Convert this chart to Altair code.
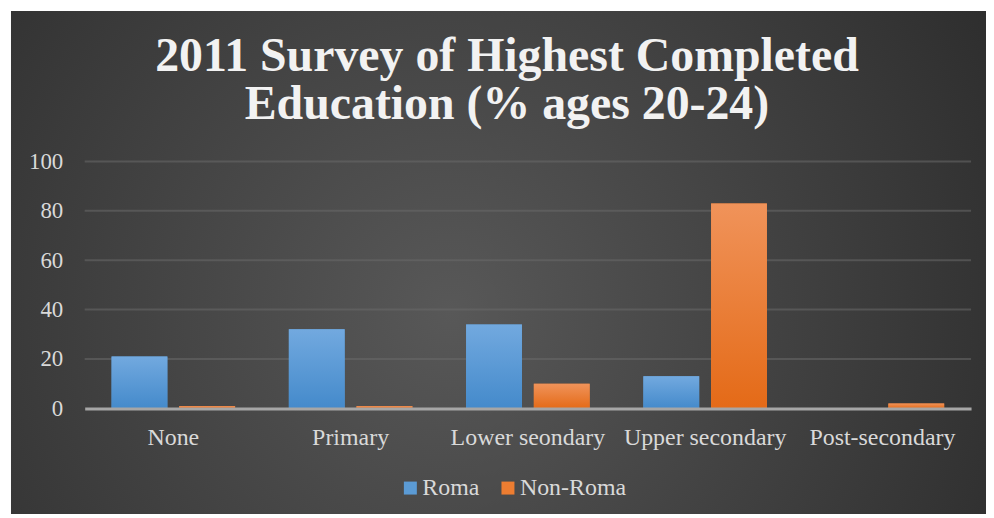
import altair as alt
import pandas as pd

categories = ["None", "Primary", "Lower seondary", "Upper secondary", "Post-secondary"]
series = ["Roma", "Non-Roma"]
roma = [21, 32, 34, 13, 0]
non_roma = [1, 1, 10, 83, 2]
y_ticks = [0, 20, 40, 60, 80, 100]

rows = []
for c, r, n in zip(categories, roma, non_roma):
    rows.append({"category": c, "series": "Roma", "value": r})
    rows.append({"category": c, "series": "Non-Roma", "value": n})
df = pd.DataFrame(rows)
grid_df = pd.DataFrame({"tick": y_ticks[1:]})
bg_df = pd.DataFrame({"a": [0]})

W, H = 890, 248
FONT = "Liberation Serif, Times New Roman, serif"

x_enc = alt.X("category:N", sort=categories, title=None,
              scale=alt.Scale(paddingInner=0, paddingOuter=0),
              axis=alt.Axis(labelAngle=0, labelFont=FONT, labelFontSize=24, labelColor="#d9d9d9",
                            labelPadding=17, ticks=False, domain=True, domainColor="#a6a6a6",
                            domainWidth=3, grid=False, zindex=1))
xo_enc = alt.XOffset("series:N", sort=series,
                     scale=alt.Scale(domain=series, paddingInner=0.176, paddingOuter=0.397))
y_enc = alt.Y("value:Q", title=None,
              scale=alt.Scale(domain=[0, 100], nice=False),
              axis=alt.Axis(values=y_ticks, labelFont=FONT, labelFontSize=23, labelColor="#d9d9d9",
                            labelPadding=22, ticks=False, domain=False, grid=False, zindex=1))

background = alt.Chart(bg_df).mark_rect(
    color=alt.RadialGradient(gradient="radial", x1=0.45, y1=0.55, r1=0, x2=0.45, y2=0.55, r2=0.75,
                             stops=[alt.GradientStop(offset=0, color="#585858"),
                                    alt.GradientStop(offset=1, color="#262626")])
).encode(x=alt.value(-74), x2=alt.value(W + 15), y=alt.value(-151), y2=alt.value(H + 106))

grid = alt.Chart(grid_df).mark_rule(color="#6a6a6a", strokeWidth=2, opacity=0.55).encode(
    y=alt.Y("tick:Q", scale=alt.Scale(domain=[0, 100], nice=False))
)

base_bars = alt.Chart(df).mark_bar().encode(
    x=x_enc, xOffset=xo_enc, y=y_enc,
    color=alt.Color("series:N", sort=series,
                    scale=alt.Scale(domain=series, range=["#5b9bd5", "#ed7d31"]),
                    legend=alt.Legend(title=None, orient="none", direction="horizontal",
                                      legendX=315, legendY=316, symbolType="square", symbolSize=170,
                                      symbolStrokeWidth=0, labelFont=FONT, labelFontSize=24,
                                      labelColor="#d9d9d9", columnPadding=16, labelOffset=0))
)

def grad_bars(name, top, bottom):
    return alt.Chart(df).transform_filter(alt.datum.series == name).mark_bar(
        color=alt.LinearGradient(gradient="linear", x1=0, x2=0, y1=0, y2=1,
                                 stops=[alt.GradientStop(offset=0, color=top),
                                        alt.GradientStop(offset=1, color=bottom)])
    ).encode(x=x_enc, xOffset=xo_enc, y=y_enc)

roma_bars = grad_bars("Roma", "#72a9df", "#448acb")
non_bars = grad_bars("Non-Roma", "#f0935a", "#e46a17")

chart = alt.layer(background, grid, base_bars, roma_bars, non_bars).properties(
    width=W, height=H,
    padding={"left": 77, "top": 153, "right": 15, "bottom": 106},
    autosize=alt.AutoSizeParams(type="none"),
    background="white",
    title=alt.TitleParams(["2011 Survey of Highest Completed", "Education (% ages 20-24)"],
                          font=FONT, fontSize=48, fontWeight="bold", color="#f2f2f2",
                          anchor="middle", lineHeight=48, offset=0, dy=118, dx=-21),
).configure_view(stroke=None)

chart.save("out.html", embed_options={"renderer": "svg", "actions": False})
